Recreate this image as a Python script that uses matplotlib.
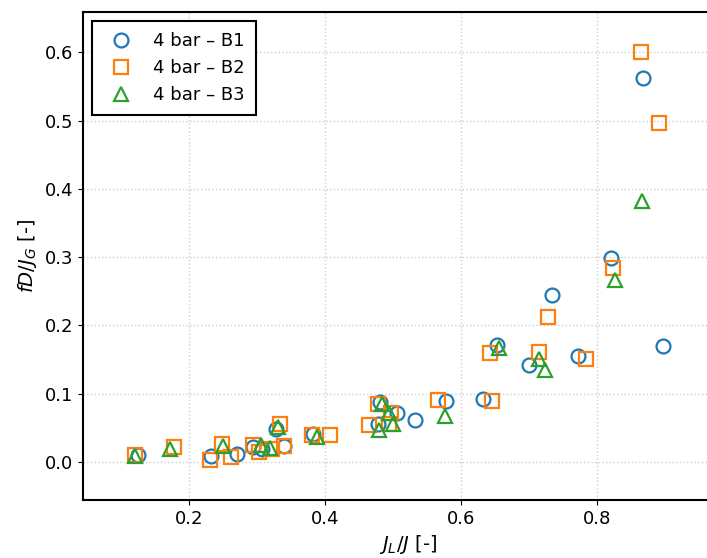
import numpy as np
import matplotlib
matplotlib.use("Agg")
import matplotlib.pyplot as plt

# 4 bar - B1
b1_x = [0.125, 0.232, 0.270, 0.294, 0.307, 0.328, 0.339, 0.382, 0.480, 0.477,
        0.505, 0.532, 0.578, 0.632, 0.653, 0.700, 0.734, 0.772, 0.820, 0.867, 0.896]
b1_y = [0.010, 0.009, 0.012, 0.022, 0.018, 0.048, 0.023, 0.041, 0.087, 0.055,
        0.071, 0.061, 0.089, 0.092, 0.171, 0.142, 0.244, 0.155, 0.299, 0.563, 0.169]

# 4 bar - B2
b2_x = [0.120, 0.177, 0.230, 0.248, 0.262, 0.294, 0.302, 0.321, 0.333, 0.340,
        0.380, 0.407, 0.465, 0.477, 0.493, 0.497, 0.566, 0.642, 0.645, 0.714,
        0.727, 0.784, 0.823, 0.864, 0.891]
b2_y = [0.010, 0.022, 0.003, 0.026, 0.007, 0.024, 0.015, 0.018, 0.055, 0.023,
        0.039, 0.039, 0.054, 0.084, 0.056, 0.071, 0.091, 0.160, 0.089, 0.161,
        0.212, 0.150, 0.284, 0.600, 0.496]

# 4 bar - B3
b3_x = [0.120, 0.171, 0.250, 0.306, 0.319, 0.331, 0.388, 0.479, 0.484, 0.493,
        0.500, 0.576, 0.655, 0.715, 0.723, 0.826, 0.866]
b3_y = [0.008, 0.018, 0.023, 0.024, 0.020, 0.051, 0.036, 0.046, 0.085, 0.071,
        0.055, 0.067, 0.166, 0.151, 0.134, 0.266, 0.382]

fig = plt.figure(figsize=(7.07, 5.58), dpi=100)
# the original figure is cropped on the right, so the axes run past the edge
ax = fig.add_axes([83 / 707, 58 / 558, 650 / 707, 488 / 558])

mk = dict(linestyle="none", markerfacecolor="none", markersize=10, markeredgewidth=1.6)
ax.plot(b1_x, b1_y, "o", color="#1f77b4", label="4 bar – B1", **mk)
ax.plot(b2_x, b2_y, "s", color="#ff7f0e", label="4 bar – B2", **mk)
ax.plot(b3_x, b3_y, "^", color="#2ca02c", label="4 bar – B3", **mk)

ax.set_xlim(0.0437, 0.9996)
ax.set_ylim(-0.056, 0.659)
ax.set_xticks([0.2, 0.4, 0.6, 0.8])
ax.set_yticks([0.0, 0.1, 0.2, 0.3, 0.4, 0.5, 0.6])
ax.tick_params(labelsize=13)
ax.grid(True, linestyle=":", color="#cccccc", linewidth=1.0)
for s in ax.spines.values():
    s.set_linewidth(1.5)

ax.set_xlabel("$J_L/J$ [-]", fontsize=14)
ax.set_ylabel("$fD/J_G$ [-]", fontsize=14)

leg = ax.legend(loc="upper left", fontsize=13, fancybox=False, framealpha=1,
                edgecolor="black", borderpad=0.6)
leg.get_frame().set_linewidth(1.5)

fig.savefig("out.png", dpi=100)
